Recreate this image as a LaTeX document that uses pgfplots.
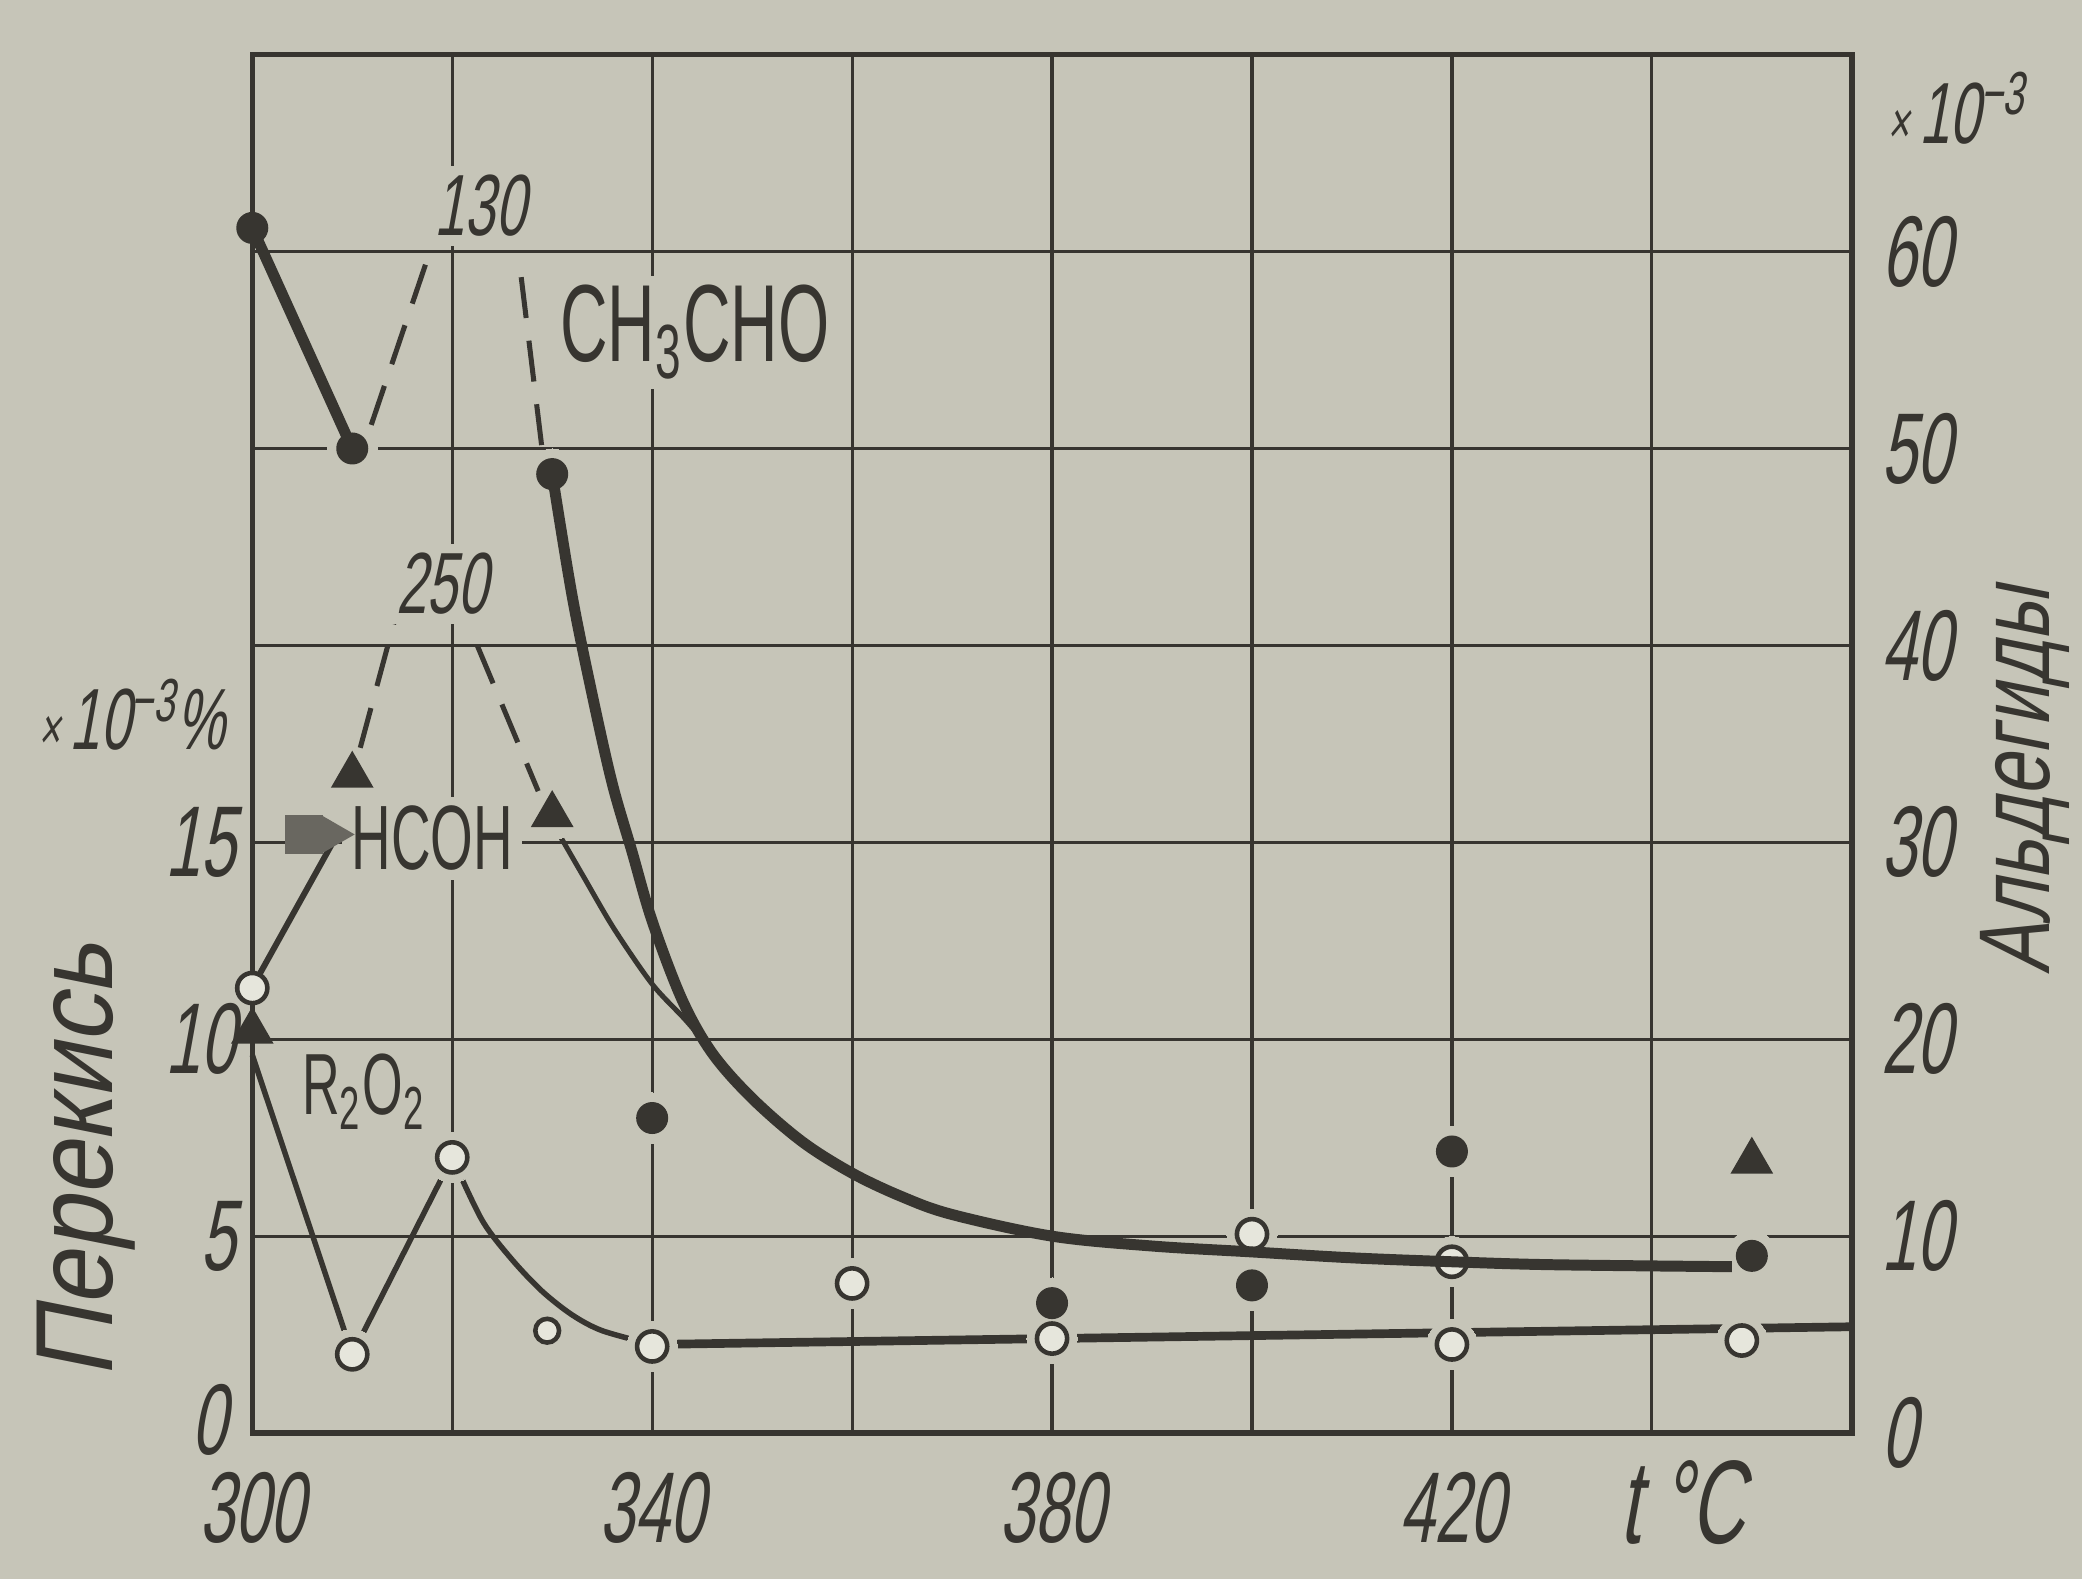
\documentclass[border=0pt]{standalone}
\usepackage{fontspec}
\setmainfont{Liberation Sans}
\newfontfamily\cond[FakeStretch=0.6]{Liberation Sans}
\newfontfamily\numfont[FakeStretch=0.63,FakeSlant=0.18]{Liberation Sans}
\newfontfamily\labfa[FakeStretch=0.9,FakeSlant=0.2]{Liberation Sans}
\newfontfamily\labfb[FakeStretch=0.75,FakeSlant=0.2]{Liberation Sans}
\usepackage{pgfplots}
\pgfplotsset{compat=1.18}

\definecolor{paper}{RGB}{198,197,184}
\definecolor{ink}{RGB}{55,53,48}
\definecolor{hole}{RGB}{230,230,220}
\definecolor{blob}{RGB}{105,103,96}

\tikzset{lbl/.style={fill=paper, inner sep=2pt, text=ink}}

\pgfplotsset{
  base/.style={
    scale only axis, width=12.3cm, height=10.6cm,
    xmin=300, xmax=460, clip=false,
    major tick length=0pt,
    tick label style={font=\numfont\fontsize{22}{22}\selectfont, text=ink},
  },
  fullc/.style={only marks, mark=*, mark size=3.3pt, mark options={fill=ink, draw=ink}},
  openc/.style={only marks, mark=*, mark size=3.3pt, mark options={fill=hole, draw=ink, line width=1pt}},
  tri/.style={only marks, mark=triangle*, mark size=5pt, mark options={fill=ink, draw=ink}},
  halo/.style={color=paper, only marks, mark=*, mark size=5.5pt, mark options={fill=paper, draw=paper, line width=0pt}},
  brk/.style={ink, line width=1.1pt, dash pattern=on 9pt off 5pt},
}

\begin{document}
\begin{tikzpicture}
\fill[paper] (-1.94,-1.12) rectangle (14.07,11.02);
\useasboundingbox (-1.94,-1.12) rectangle (14.07,11.02);

% left scale: peroxide and formaldehyde, x10^-3 %
\begin{axis}[base,
  ymin=0, ymax=35,
  xtick={300,320,...,460}, xticklabels={300,,340,,380,,420,,},
  ytick={0,5,...,35}, yticklabels={\raisebox{6pt}{0\hspace{2pt}},5,10,15,,,,},
  tick pos=left,
  grid=major, major grid style={ink, line width=0.7pt},
  axis line style={ink, line width=1.2pt},
  xticklabel style={yshift=-5pt},
]
% gaps in the grid round the marks
\addplot[halo] coordinates {(310,2.0)(320,7.0)(340,2.2)(360,3.8)(380,2.4)(400,5.05)(420,4.35)(420,2.25)(449,2.35)(310,16.7)(330,15.7)(450,6.9)};
\addplot[halo] coordinates {(340,8.0)(380,3.3)(400,3.75)(420,7.15)(450,4.5)(310,25)(330,24.35)};
% R2O2
\addplot[ink, line width=1.2pt] coordinates {(300,9.6)(310,2.0)(320,7.0)};
\addplot[ink, line width=1.2pt, smooth, tension=0.5] coordinates {(320,7.0)(323,5.4)(326,4.4)(329,3.6)(332,3.0)(335,2.6)(340,2.25)};
\addplot[ink, line width=1.9pt] coordinates {(340,2.25)(460,2.7)};
% HCOH
\addplot[ink, line width=1.3pt] coordinates {(300.4,11.5)(308.5,15.2)};
\addplot[brk] coordinates {(310.8,17.4)(314.2,20.6)};
\addplot[brk] coordinates {(322.5,20.0)(328.6,16.3)};
\addplot[ink, line width=1.1pt, smooth, tension=0.5] coordinates {(330.7,15.2)(333.2,14.1)(336.2,12.8)(340,11.4)(343.3,10.5)(346,9.7)(350,8.5)};
\addplot[tri] coordinates {(300,10.2)(310,16.7)(330,15.7)(450,6.9)};
\addplot[only marks, mark=square*, mark size=4pt, mark options={fill=blob, draw=blob}] coordinates {(305.2,15.2)};
\addplot[only marks, mark=triangle*, mark size=4.5pt, mark options={rotate=-90, fill=blob, draw=blob}] coordinates {(308,15.2)};
% open circles
\addplot[openc] coordinates {(300,11.3)(310,2.0)(320,7.0)(340,2.2)(360,3.8)(380,2.4)(400,5.05)(420,4.35)(420,2.25)(449,2.35)};
\addplot[openc, mark size=2.6pt] coordinates {(329.5,2.6)};

\node[lbl, anchor=base, font=\cond\fontsize{20}{20}\selectfont] at (axis cs:318,14.3) {HCOH};
\node[lbl, anchor=base west, font=\cond\fontsize{19}{19}\selectfont] at (axis cs:304,8.1) {R\textsubscript{2}O\textsubscript{2}};
\node[lbl, anchor=base west, font=\numfont\fontsize{19}{19}\selectfont] at (axis cs:313.4,20.8) {250};
\node[anchor=base east, font=\numfont\fontsize{19}{19}\selectfont, text=ink, inner sep=0pt] at ([xshift=-0.2cm]axis cs:300,17.35) {{\fontsize{13}{13}\selectfont ×\,}10\textsuperscript{−3}\%};
\node[anchor=base, font=\numfont\fontsize{26}{26}\selectfont, text=ink] at ([yshift=-0.85cm]axis cs:443,0) {t\,°C};
\node[rotate=90, font=\labfa\fontsize{24}{24}\selectfont, text=ink] at ([xshift=-1.28cm]axis cs:300,6.9) {Перекись};
\end{axis}

% right scale: aldehydes, x10^-3
\begin{axis}[base,
  ymin=0, ymax=70,
  xtick=\empty,
  ytick={0,10,...,60}, yticklabels={0,10,20,30,40,50,60},
  ytick pos=right, yticklabel pos=right,
  yticklabel style={xshift=3pt},
  axis line style={draw=none},
]
% CH3CHO
\addplot[ink, line width=2.4pt] coordinates {(300,61.2)(310,50)};
\addplot[brk] coordinates {(311.9,51.2)(317.5,59.6)};
\addplot[brk] coordinates {(326.9,58.7)(329.1,49.5)};
\addplot[ink, line width=2.4pt, smooth, tension=0.55] coordinates {(330,48.7)(332,42.5)(334,37.5)(336,33)(338,29.5)(340,26.0)(343,22)(346,19.3)(350,17.0)(355,14.8)(360,13.2)(365,12.0)(370,11.1)(380,10.0)(390,9.5)(400,9.2)(410,8.9)(420,8.7)(430,8.55)(448,8.45)};
\addplot[fullc] coordinates {(300,61.2)(310,50)(330,48.7)(340,16.0)(380,6.6)(400,7.5)(420,14.3)(450,9.0)};

\node[lbl, anchor=base west, font=\cond\fontsize{24}{24}\selectfont] at (axis cs:329.8,54.4) {CH\textsubscript{3}CHO};
\node[lbl, anchor=base west, font=\numfont\fontsize{19}{19}\selectfont] at (axis cs:317.2,60.8) {130};
\node[anchor=base west, font=\numfont\fontsize{19}{19}\selectfont, text=ink] at ([xshift=0.15cm]axis cs:460,65.5) {{\fontsize{13}{13}\selectfont ×\,}10\textsuperscript{−3}};
\node[rotate=90, font=\labfb\fontsize{22}{22}\selectfont, text=ink] at ([xshift=1.33cm]axis cs:460,33.1) {Альдегиды};
\end{axis}
\end{tikzpicture}
\end{document}
